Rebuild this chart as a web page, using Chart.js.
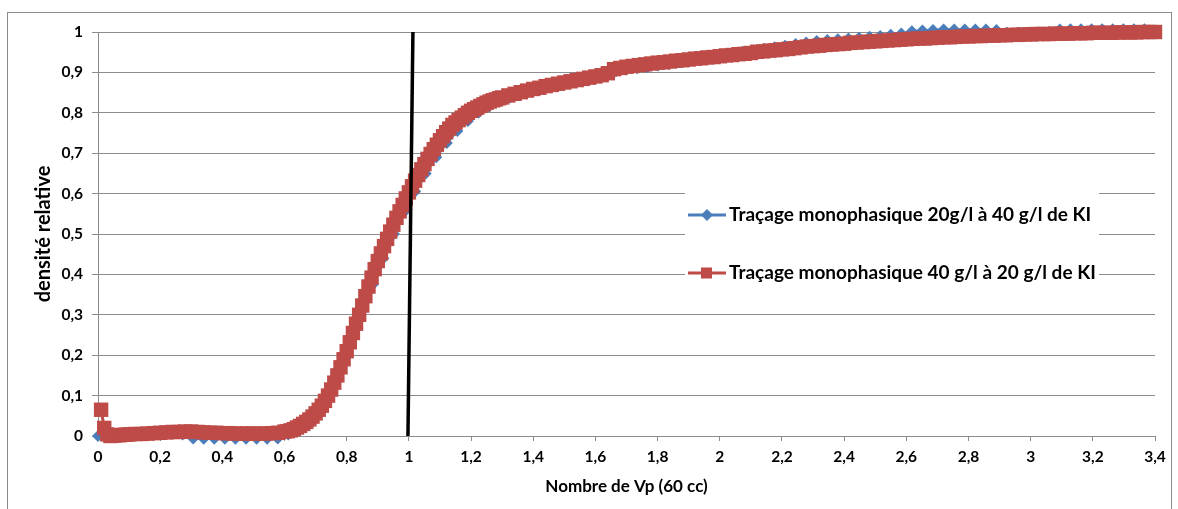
<!DOCTYPE html>
<html>
<head>
<meta charset="utf-8">
<script src="https://cdn.jsdelivr.net/npm/chart.js@4.4.0/dist/chart.umd.min.js"></script>
<style>
    html, body { margin: 0; padding: 0; background: #fff; }
    #wrap { width: 1178px; height: 509px; position: relative; }
</style>
</head>
<body>
<div id="wrap"><canvas id="courbe"></canvas></div>
<script>
// Traçage monophasique - densité relative en fonction du nombre de Vp

const xTicksTitle = 'Nombre de Vp (60 cc)';
const yTicksTitle = 'densité relative';
const seriesNames = [
    'Traçage monophasique 20g/l à 40 g/l de KI',
    'Traçage monophasique 40 g/l à 20 g/l de KI'
];

// série rouge (40 -> 20 g/l), par tronçons : début, pas, valeurs
const redHeadY = [0.065, 0.02, 0.004, 0.0, 0.001, 0.002, 0.002, 0.003, 0.003, 0.004]; // 0,01 -> 0,10
const redFlatY = [0.005, 0.005, 0.006, 0.007, 0.008, 0.009, 0.01, 0.01, 0.011, 0.011,
    0.01, 0.009, 0.008, 0.008, 0.007, 0.007, 0.006, 0.006, 0.006, 0.006,
    0.006, 0.006, 0.007, 0.008, 0.011]; // 0,12 -> 0,60
const redRiseY = [0.012, 0.014, 0.017, 0.021, 0.025, 0.03, 0.035, 0.041, 0.048, 0.056,
    0.065, 0.075, 0.087, 0.10, 0.115, 0.132, 0.15, 0.17, 0.19, 0.21,
    0.232, 0.255, 0.278, 0.30, 0.323, 0.346, 0.37, 0.392, 0.413, 0.433,
    0.452, 0.47, 0.488, 0.506, 0.523, 0.54, 0.556, 0.572, 0.588, 0.603,
    0.618, 0.632, 0.646, 0.66, 0.673, 0.686, 0.698, 0.71, 0.721, 0.732,
    0.742, 0.752, 0.761, 0.77, 0.776, 0.782, 0.788, 0.794, 0.80, 0.805,
    0.809, 0.813, 0.817, 0.821, 0.825, 0.828, 0.831, 0.833, 0.836, 0.838]; // 0,61 -> 1,30
const redTailY = [0.843, 0.847, 0.851, 0.855, 0.859, 0.862, 0.866, 0.869, 0.872, 0.875,
    0.878, 0.881, 0.884, 0.887, 0.89, 0.893, 0.898, 0.908, 0.911, 0.914,
    0.916, 0.918, 0.92, 0.922, 0.924, 0.925, 0.927, 0.929, 0.93, 0.932,
    0.934, 0.935, 0.937, 0.938, 0.94, 0.942, 0.943, 0.945, 0.946, 0.948,
    0.951, 0.952, 0.954, 0.955, 0.957, 0.958, 0.96, 0.962, 0.964, 0.965,
    0.966, 0.968, 0.969, 0.97, 0.971, 0.973, 0.974, 0.975, 0.976, 0.977,
    0.978, 0.979, 0.98, 0.981, 0.982, 0.983, 0.984, 0.984, 0.985, 0.986,
    0.987, 0.987, 0.988, 0.989, 0.989, 0.99, 0.99, 0.991, 0.991, 0.992,
    0.992, 0.993, 0.993, 0.994, 0.994, 0.995, 0.995, 0.995, 0.996, 0.996,
    0.996, 0.997, 0.997, 0.997, 0.998, 0.998, 0.998, 0.998, 0.999, 0.999,
    0.999, 0.999, 1.0, 1.0, 1.0]; // 1,32 -> 3,40

// série bleue (20 -> 40 g/l), pas régulier de 0,034
const blueStep = 0.034;
const blueY = [0.0, 0.0, 0.002, 0.004, 0.005, 0.006, 0.006, 0.006, 0.004, -0.006,
    -0.007, -0.007, -0.007, -0.007, -0.007, -0.007, -0.007, -0.006, 0.004, 0.015,
    0.035, 0.065, 0.11, 0.175, 0.24, 0.31, 0.375, 0.44, 0.50, 0.555,
    0.605, 0.65, 0.69, 0.725, 0.755, 0.78, 0.80, 0.815, 0.828, 0.838,
    0.846, 0.853, 0.86, 0.866, 0.872, 0.877, 0.882, 0.888, 0.893, 0.903,
    0.907, 0.91, 0.913, 0.917, 0.921, 0.925, 0.929, 0.933, 0.937, 0.941,
    0.946, 0.951, 0.955, 0.958, 0.962, 0.966, 0.97, 0.974, 0.978, 0.98,
    0.982, 0.984, 0.986, 0.988, 0.99, 0.993, 0.996, 1.002, 1.004, 1.005,
    1.006, 1.006, 1.006, 1.006, 1.006, 1.005, 0.998, 0.998, 0.999, 0.999,
    1.0, 1.006, 1.007, 1.007, 1.007, 1.007, 1.007, 1.007, 1.007, 1.007, 1.0];

// droite verticale noire vers 1 Vp
const markerLineX = [0.997, 1.013];
const markerLineY = [0, 1];

const BLUE = '#4A7EBB';
const RED = '#BE4B48';
const FONT = 'Lato';

function seg(start, step, values) {
    return values.map((v, i) => ({ x: +(start + i * step).toFixed(3), y: v }));
}

const redData = [
    ...seg(0.01, 0.01, redHeadY),
    ...seg(0.12, 0.02, redFlatY),
    ...seg(0.61, 0.01, redRiseY),
    ...seg(1.32, 0.02, redTailY)
];
const blueData = seg(0, blueStep, blueY);
const lineData = markerLineX.map((x, i) => ({ x, y: markerLineY[i] }));

const fmt = v => String(Math.round(v * 10) / 10).replace('.', ',');

// cadre gris + légende posée dans la zone de tracé
const frameAndLegend = {
    id: 'frameAndLegend',
    beforeDraw(chart) {
        const ctx = chart.ctx;
        ctx.save();
        ctx.fillStyle = '#fff';
        ctx.fillRect(0, 0, chart.width, chart.height);
        ctx.strokeStyle = '#8c8c8c';
        ctx.lineWidth = 1;
        ctx.strokeRect(7.5, 12.5, 1164, 520);
        ctx.restore();
    },
    afterDatasetsDraw(chart) {
        const ctx = chart.ctx;
        ctx.save();
        ctx.fillStyle = '#fff';
        ctx.fillRect(685, 178, 414, 118);
        const rows = [
            { y: 215, color: BLUE, shape: 'diamond', text: seriesNames[0] },
            { y: 273, color: RED, shape: 'square', text: seriesNames[1] }
        ];
        rows.forEach(r => {
            ctx.strokeStyle = r.color;
            ctx.lineWidth = 3;
            ctx.beginPath();
            ctx.moveTo(688, r.y);
            ctx.lineTo(726, r.y);
            ctx.stroke();
            ctx.fillStyle = r.color;
            ctx.beginPath();
            if (r.shape === 'diamond') {
                ctx.moveTo(707, r.y - 6);
                ctx.lineTo(713, r.y);
                ctx.lineTo(707, r.y + 6);
                ctx.lineTo(701, r.y);
                ctx.closePath();
            } else {
                ctx.rect(701, r.y - 5.5, 11, 11);
            }
            ctx.fill();
            ctx.fillStyle = '#000';
            ctx.font = `bold 19px ${FONT}`;
            ctx.textBaseline = 'middle';
            ctx.textAlign = 'left';
            ctx.fillText(r.text, 729, r.y);
        });
        ctx.restore();
    }
};

new Chart(document.getElementById('courbe'), {
    type: 'scatter',
    data: {
        datasets: [
            {
                label: 'droite',
                data: lineData,
                showLine: true,
                borderColor: '#000',
                borderWidth: 3.5,
                pointRadius: 0,
                order: 0,
                clip: false
            },
            {
                label: seriesNames[1],
                data: redData,
                showLine: true,
                borderColor: RED,
                backgroundColor: RED,
                borderWidth: 3,
                pointStyle: 'rect',
                pointRadius: 10.2,
                pointBorderWidth: 0,
                order: 1,
                clip: false
            },
            {
                label: seriesNames[0],
                data: blueData,
                showLine: true,
                borderColor: BLUE,
                backgroundColor: BLUE,
                borderWidth: 2.5,
                pointStyle: 'rectRot',
                pointRadius: 6,
                pointBorderWidth: 0,
                order: 2,
                clip: false
            }
        ]
    },
    options: {
        responsive: true,
        maintainAspectRatio: false,
        animation: false,
        layout: { padding: { left: 0, top: 32, right: 23, bottom: 0 } },
        plugins: {
            legend: { display: false },
            tooltip: { enabled: false }
        },
        scales: {
            x: {
                type: 'linear',
                min: 0,
                max: 3.4,
                afterFit: scale => { scale.height = 73; },
                grid: { drawOnChartArea: false, drawTicks: true, tickLength: 5, color: '#8c8c8c' },
                border: { color: '#8c8c8c', width: 1 },
                ticks: {
                    stepSize: 0.2,
                    padding: 7,
                    maxRotation: 0,
                    autoSkip: false,
                    color: '#000',
                    font: { family: FONT, size: 15.5, weight: 'bold' },
                    callback: v => fmt(v)
                },
                title: {
                    display: true,
                    text: xTicksTitle,
                    color: '#000',
                    font: { family: FONT, size: 17, weight: 'bold' },
                    padding: { top: 0, bottom: 12 }
                }
            },
            y: {
                min: 0,
                max: 1,
                afterFit: scale => { scale.width = 98; },
                grid: { color: '#8c8c8c', tickLength: 6 },
                border: { color: '#8c8c8c', width: 1 },
                ticks: {
                    stepSize: 0.1,
                    padding: 9,
                    color: '#000',
                    font: { family: FONT, size: 15.5, weight: 'bold' },
                    callback: v => fmt(v)
                },
                title: {
                    display: true,
                    text: yTicksTitle,
                    color: '#000',
                    font: { family: FONT, size: 20, weight: 'bold' },
                    padding: { top: 32, bottom: 0 }
                }
            }
        }
    },
    plugins: [frameAndLegend]
});
</script>
</body>
</html>
